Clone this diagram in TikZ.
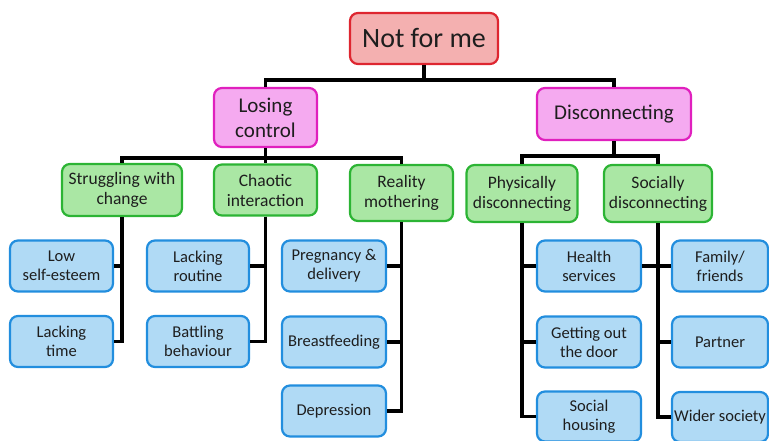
\documentclass[tikz,border=0pt]{standalone}
\usepackage{fontspec}
\setmainfont{Carlito}
\definecolor{rootfill}{RGB}{244,176,176}
\definecolor{rootdraw}{RGB}{222,38,48}
\definecolor{magfill}{RGB}{245,170,240}
\definecolor{magdraw}{RGB}{224,32,190}
\definecolor{grnfill}{RGB}{170,231,164}
\definecolor{grndraw}{RGB}{44,180,52}
\definecolor{blufill}{RGB}{176,218,245}
\definecolor{bludraw}{RGB}{34,142,222}
\definecolor{txt}{RGB}{30,30,30}
\tikzset{
  boxbase/.style={rectangle, rounded corners=8pt, line width=2.2pt, align=center, inner sep=0pt, text=txt},
  rootbox/.style={boxbase, fill=rootfill, draw=rootdraw, minimum width=148pt, minimum height=51pt, font=\fontsize{28}{30}\selectfont},
  magbox/.style={boxbase, fill=magfill, draw=magdraw, minimum height=52pt, font=\fontsize{21}{25}\selectfont},
  grnbox/.style={boxbase, fill=grnfill, draw=grndraw, minimum height=55pt, font=\fontsize{17.5}{20}\selectfont},
  blubox/.style={boxbase, fill=blufill, draw=bludraw, minimum width=104pt, minimum height=51pt, font=\fontsize{16.5}{19}\selectfont},
  conn/.style={line width=3.2pt, black}
}
\begin{document}
\begin{tikzpicture}[x=1pt,y=-1pt]
\useasboundingbox (0,0) rectangle (769,441);
% level 0
\node[rootbox] (root) at (424,38.5) {Not for me};
% level 1
\node[magbox, minimum width=103pt, minimum height=59pt] (lc) at (265.5,117.5) {Losing\\control};
\node[magbox, minimum width=154pt] (dc) at (614,114) {Disconnecting};
% level 2
\node[grnbox, minimum width=120pt, minimum height=52pt] (sw) at (122,190) {Struggling with\\change};
\node[grnbox, minimum width=103pt, minimum height=51pt] (ci) at (265.5,190) {Chaotic\\interaction};
\node[grnbox, minimum width=103pt, minimum height=56pt] (rm) at (401.5,193) {Reality\\mothering};
\node[grnbox, minimum width=111pt, minimum height=57pt] (pd) at (522,193.5) {Physically\\disconnecting};
\node[grnbox, minimum width=108pt, minimum height=57pt] (sd) at (658,193.5) {Socially\\disconnecting};
% level 3
\node[blubox, minimum width=103pt] (lse) at (61.5,266) {Low\\self-esteem};
\node[blubox, minimum width=103pt] (lt) at (61.5,341.5) {Lacking\\time};
\node[blubox, minimum width=102pt] (lr) at (198,266) {Lacking\\routine};
\node[blubox, minimum width=102pt] (bb) at (198,341.5) {Battling\\behaviour};
\node[blubox] (pg) at (334,266) {Pregnancy \&\\delivery};
\node[blubox] (bf) at (334,342) {Breastfeeding};
\node[blubox] (dp) at (334,411) {Depression};
\node[blubox] (hs) at (589,266) {Health\\services};
\node[blubox] (go) at (589,342) {Getting out\\the door};
\node[blubox, minimum height=50pt] (sh) at (589,416.5) {Social\\housing};
\node[blubox, minimum width=96pt] (ff) at (720,266) {Family/\\friends};
\node[blubox, minimum width=96pt] (pt) at (720,342) {Partner};
\node[blubox, minimum width=96pt, minimum height=50pt] (ws) at (720,417) {Wider society};
% connectors
\draw[conn] (root.south) -- ++(0,15) -| (lc.north);
\draw[conn] (root.south) -- ++(0,15) -| (dc.north);
\draw[conn] (lc.south) -- ++(0,10) -| (sw.north);
\draw[conn] (lc.south) -- (ci.north);
\draw[conn] (lc.south) -- ++(0,10) -| (rm.north);
\draw[conn] (dc.south) -- ++(0,15) -| (pd.north);
\draw[conn] (dc.south) -- ++(0,15) -| (sd.north);
\draw[conn] (sw.south) |- (lse.east);
\draw[conn] (sw.south) |- (lt.east);
\draw[conn] (ci.south) |- (lr.east);
\draw[conn] (ci.south) |- (bb.east);
\draw[conn] (rm.south) |- (pg.east);
\draw[conn] (rm.south) |- (bf.east);
\draw[conn] (rm.south) |- (dp.east);
\draw[conn] (pd.south) |- (hs.west);
\draw[conn] (pd.south) |- (go.west);
\draw[conn] (pd.south) |- (sh.west);
\draw[conn] (sd.south) |- (hs.east);
\draw[conn] (sd.south) |- (ff.west);
\draw[conn] (sd.south) |- (pt.west);
\draw[conn] (sd.south) |- (ws.west);
\end{tikzpicture}
\end{document}
